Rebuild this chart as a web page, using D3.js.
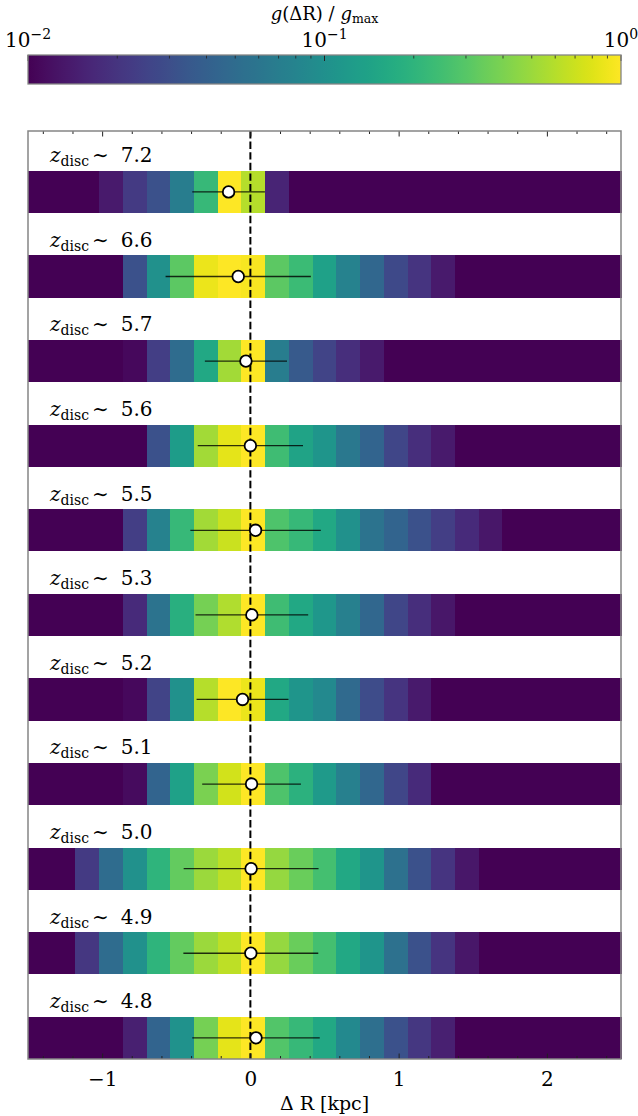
<!DOCTYPE html>
<html lang="en">
<head>
<meta charset="UTF-8">
<title>g(ΔR) / g_max per disc</title>
<style>
    body { margin: 0; background: #fff; }
    svg text { font-family: "DejaVu Serif", serif; fill: #000; }
</style>
<script src="https://cdn.jsdelivr.net/npm/d3@7"></script>
</head>
<body>
<svg id="chart" width="638" height="1116"></svg>
<script>
// disc redshifts, top to bottom
const zLabels = ["7.2", "6.6", "5.7", "5.6", "5.5", "5.3", "5.2", "5.1", "5.0", "4.9", "4.8"];

// ΔR bin edges [kpc]
const binEdges = [-1.50, -1.34, -1.18, -1.02, -0.86, -0.70, -0.54, -0.38, -0.22, -0.06,
                  0.10, 0.26, 0.42, 0.58, 0.74, 0.90, 1.06, 1.22, 1.38, 1.54,
                  1.70, 1.86, 2.02, 2.18, 2.34, 2.50];

// g(ΔR)/g_max in every bin (0.01 = bottom of the colour scale)
const g72 = [0.01, 0.01, 0.01, 0.0138, 0.0219, 0.0316, 0.0692, 0.219, 1, 0.603, 0.0158, 0.01, 0.01, 0.01, 0.01, 0.01, 0.01, 0.01, 0.01, 0.01, 0.01, 0.01, 0.01, 0.01, 0.01];
const g66 = [0.01, 0.01, 0.01, 0.01, 0.0316, 0.1, 0.316, 0.871, 1, 0.955, 0.316, 0.229, 0.138, 0.0759, 0.0457, 0.0275, 0.02, 0.0138, 0.01, 0.01, 0.01, 0.01, 0.01, 0.01, 0.01];
const g57 = [0.01, 0.01, 0.01, 0.01, 0.011, 0.0229, 0.0501, 0.158, 0.525, 1, 0.0692, 0.0363, 0.0251, 0.0182, 0.0138, 0.01, 0.01, 0.01, 0.01, 0.01, 0.01, 0.01, 0.01, 0.01, 0.01];
const g56 = [0.01, 0.01, 0.01, 0.01, 0.01, 0.0316, 0.126, 0.525, 0.832, 1, 0.24, 0.145, 0.11, 0.0631, 0.0437, 0.0263, 0.0182, 0.0138, 0.01, 0.01, 0.01, 0.01, 0.01, 0.01, 0.01];
const g55 = [0.01, 0.01, 0.01, 0.01, 0.0229, 0.0759, 0.219, 0.525, 0.692, 1, 0.275, 0.219, 0.158, 0.1, 0.0575, 0.0437, 0.0316, 0.0229, 0.0174, 0.0132, 0.01, 0.01, 0.01, 0.01, 0.01];
const g53 = [0.01, 0.01, 0.01, 0.01, 0.0174, 0.0575, 0.182, 0.38, 0.575, 1, 0.24, 0.158, 0.115, 0.0724, 0.0457, 0.0263, 0.0182, 0.0132, 0.01, 0.01, 0.01, 0.01, 0.01, 0.01, 0.01];
const g52 = [0.01, 0.01, 0.01, 0.01, 0.011, 0.0251, 0.1, 0.603, 1, 0.871, 0.158, 0.11, 0.0871, 0.0479, 0.0288, 0.02, 0.0138, 0.01, 0.01, 0.01, 0.01, 0.01, 0.01, 0.01, 0.01];
const g51 = [0.01, 0.01, 0.01, 0.01, 0.0115, 0.0437, 0.138, 0.398, 0.724, 1, 0.275, 0.191, 0.12, 0.0724, 0.0457, 0.0263, 0.0174, 0.01, 0.01, 0.01, 0.01, 0.01, 0.01, 0.01, 0.01];
const g50 = [0.01, 0.01, 0.0219, 0.0501, 0.1, 0.2, 0.331, 0.501, 0.631, 1, 0.479, 0.347, 0.251, 0.158, 0.11, 0.055, 0.0316, 0.02, 0.0132, 0.01, 0.01, 0.01, 0.01, 0.01, 0.01];
const g49 = [0.01, 0.01, 0.0209, 0.0501, 0.1, 0.2, 0.331, 0.501, 0.631, 1, 0.479, 0.347, 0.251, 0.158, 0.11, 0.055, 0.0316, 0.02, 0.0132, 0.01, 0.01, 0.01, 0.01, 0.01, 0.01];
const g48 = [0.01, 0.01, 0.01, 0.01, 0.0151, 0.0437, 0.105, 0.38, 0.832, 1, 0.288, 0.219, 0.158, 0.0871, 0.0525, 0.0316, 0.0209, 0.0151, 0.01, 0.01, 0.01, 0.01, 0.01, 0.01, 0.01];
const gRows = [g72, g66, g57, g56, g55, g53, g52, g51, g50, g49, g48];

// measured offset and its error [kpc]
const pointX = [-0.147, -0.082, -0.03, 0.0, 0.035, 0.01, -0.053, 0.008, 0.005, 0.003, 0.038];
const pointErr = [0.245, 0.49, 0.277, 0.355, 0.44, 0.38, 0.31, 0.333, 0.455, 0.455, 0.43];

const xTicks = [-1, 0, 1, 2];
const xMinor = [-1.4, -1.2, -0.8, -0.6, -0.4, -0.2, 0.2, 0.4, 0.6, 0.8, 1.2, 1.4, 1.6, 1.8, 2.2, 2.4];
const cbTicks = [0.01, 0.1, 1];
const cbTickExp = ["−2", "−1", "0"];
const cbMinor = [0.02, 0.03, 0.04, 0.05, 0.06, 0.07, 0.08, 0.09, 0.2, 0.3, 0.4, 0.5, 0.6, 0.7, 0.8, 0.9];

const svg = d3.select("#chart");
const left = 28, right = 621;
const panelTop = 131, panelBottom = 1059;
const frameColor = "#858585";

const color = d3.scaleSequentialLog(d3.interpolateViridis).domain([0.01, 1]).clamp(true);

const x = d3.scaleLinear().domain([-1.5, 2.5]).range([left, right]);
// row r = 0 is the bottom disc; each strip spans r-0.25 .. r+0.25
const y = d3.scaleLinear().domain([-0.25, 10.72]).range([panelBottom, panelTop]);
const nRows = zLabels.length;

// ---------- colour bar ----------
const cbTop = 55, cbBottom = 84;
const cbX = d3.scaleLog().domain([0.01, 1]).range([left, right]);

const grad = svg.append("defs").append("linearGradient")
    .attr("id", "viridis")
    .attr("x1", "0%").attr("x2", "100%").attr("y1", "0%").attr("y2", "0%");
d3.range(64).forEach(i => {
    const t = i / 63;
    grad.append("stop")
        .attr("offset", `${t * 100}%`)
        .attr("stop-color", d3.interpolateViridis(t));
});

svg.append("rect")
    .attr("x", left).attr("y", cbTop)
    .attr("width", right - left).attr("height", cbBottom - cbTop)
    .style("fill", "url(#viridis)");

const cbAxis = svg.append("g").attr("transform", `translate(0,${cbTop})`);
cbAxis.selectAll("line.minor").data(cbMinor).join("line")
    .attr("x1", d => cbX(d)).attr("x2", d => cbX(d))
    .attr("y1", 0).attr("y2", 3.5)
    .attr("stroke", "#222").attr("stroke-width", 0.8);
cbAxis.selectAll("line.major").data(cbTicks).join("line")
    .attr("x1", d => cbX(d)).attr("x2", d => cbX(d))
    .attr("y1", 0).attr("y2", 6)
    .attr("stroke", "#222").attr("stroke-width", 1);

svg.append("rect")
    .attr("x", left).attr("y", cbTop)
    .attr("width", right - left).attr("height", cbBottom - cbTop)
    .attr("fill", "none").attr("stroke", frameColor).attr("stroke-width", 1.3);

const cbLabels = svg.append("g");
cbTicks.forEach((d, i) => {
    const t = cbLabels.append("text")
        .attr("x", cbX(d)).attr("y", 47)
        .attr("text-anchor", "middle")
        .style("font-size", "20px");
    t.append("tspan").text("10");
    t.append("tspan").attr("dy", -8).style("font-size", "14px").text(cbTickExp[i]);
});

const cbTitle = svg.append("text")
    .attr("x", (left + right) / 2).attr("y", 20)
    .attr("text-anchor", "middle")
    .style("font-size", "18px");
cbTitle.append("tspan").style("font-style", "italic").text("g");
cbTitle.append("tspan").text("(ΔR) / ");
cbTitle.append("tspan").style("font-style", "italic").text("g");
cbTitle.append("tspan").attr("dy", 3).style("font-size", "12.5px").text("max");

// ---------- strips ----------
const rows = svg.append("g").attr("shape-rendering", "crispEdges");
gRows.forEach((vals, k) => {
    const r = nRows - 1 - k;
    rows.append("g").selectAll("rect").data(vals).join("rect")
        .attr("x", (d, i) => x(binEdges[i]))
        .attr("width", (d, i) => x(binEdges[i + 1]) - x(binEdges[i]) + 0.5)
        .attr("y", y(r + 0.25))
        .attr("height", y(r - 0.25) - y(r + 0.25))
        .attr("fill", d => color(d));
});

// redshift labels
zLabels.forEach((z, k) => {
    const r = nRows - 1 - k;
    const t = svg.append("text")
        .attr("x", 50).attr("y", y(r + 0.35))
        .style("font-size", "20px");
    t.append("tspan").style("font-style", "italic").text("z");
    t.append("tspan").attr("dy", 4).style("font-size", "14px").text("disc");
    t.append("tspan").attr("dy", -4).attr("dx", 3).text("∼");
    t.append("tspan").attr("dx", 12).text(z);
});

// zero line
svg.append("line")
    .attr("x1", x(0)).attr("x2", x(0))
    .attr("y1", panelTop).attr("y2", panelBottom)
    .attr("stroke", "#000").attr("stroke-width", 2)
    .attr("stroke-dasharray", "7.4,3.2");

// error bars and points
const pts = svg.append("g");
pointX.forEach((px, k) => {
    const r = nRows - 1 - k;
    pts.append("line")
        .attr("x1", x(px - pointErr[k])).attr("x2", x(px + pointErr[k]))
        .attr("y1", y(r)).attr("y2", y(r))
        .attr("stroke", "#000").attr("stroke-opacity", 0.8).attr("stroke-width", 1.3);
    pts.append("circle")
        .attr("cx", x(px)).attr("cy", y(r)).attr("r", 5.8)
        .attr("fill", "#fff").attr("stroke", "#000").attr("stroke-width", 1.8);
});

// ---------- axes ----------
const bottomAxis = svg.append("g")
    .attr("transform", `translate(0,${panelBottom})`)
    .call(d3.axisBottom(x).tickValues(xTicks).tickSize(-5.5).tickPadding(13)
        .tickFormat(d3.format("d")));
bottomAxis.select(".domain").remove();
bottomAxis.selectAll("text").style("font-size", "20px").style("font-family", "DejaVu Serif");

svg.append("g")
    .attr("transform", `translate(0,${panelBottom})`)
    .call(d3.axisBottom(x).tickValues(xMinor).tickSize(-3).tickFormat(""))
    .select(".domain").remove();

svg.append("g")
    .attr("transform", `translate(0,${panelTop})`)
    .call(d3.axisTop(x).tickValues(xTicks).tickSize(-5.5).tickFormat(""))
    .select(".domain").remove();

svg.append("g")
    .attr("transform", `translate(0,${panelTop})`)
    .call(d3.axisTop(x).tickValues(xMinor).tickSize(-3).tickFormat(""))
    .select(".domain").remove();

svg.selectAll(".tick line").attr("stroke", "#222");

svg.append("rect")
    .attr("x", left).attr("y", panelTop)
    .attr("width", right - left).attr("height", panelBottom - panelTop)
    .attr("fill", "none").attr("stroke", frameColor).attr("stroke-width", 1.5);

svg.append("text")
    .attr("x", (left + right) / 2).attr("y", 1110)
    .attr("text-anchor", "middle")
    .style("font-size", "19px")
    .text("Δ R [kpc]");
</script>
</body>
</html>
